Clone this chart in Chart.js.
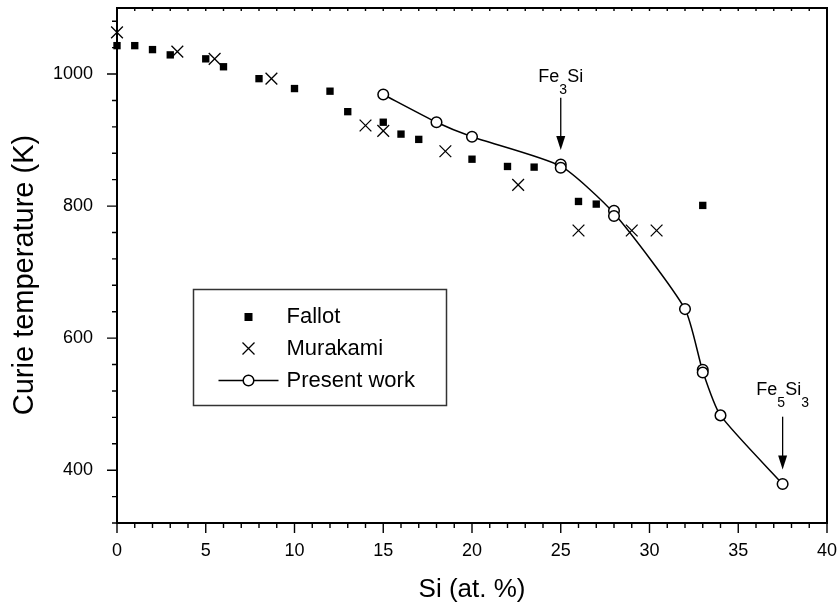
<!DOCTYPE html>
<html>
<head>
<meta charset="utf-8">
<script src="https://cdn.jsdelivr.net/npm/chart.js@4.4.1/dist/chart.umd.min.js"></script>
<style>
    html, body { margin: 0; padding: 0; background: #fff; }
</style>
</head>
<body>
<canvas id="curie" width="839" height="609"></canvas>
<script>

// Fallot
const fallotSi = [0, 1, 2, 3, 5, 6, 8, 10, 12, 13, 15, 16, 17, 20, 22, 23.5, 26, 27, 33]
const fallotTc = [1043, 1043, 1037, 1029, 1023, 1011, 993, 978, 974, 943, 927, 909, 901, 871, 860, 859, 807, 803, 801]

// Murakami
const murakamiSi = [0, 3.4, 5.5, 8.7, 14, 15, 18.5, 22.6, 26, 29, 30.4]
const murakamiTc = [1063, 1034, 1023, 993, 922, 914, 883, 832, 763, 763, 763]

// Present work
const presentSi = [15, 18, 20, 25, 25, 28, 28, 32, 33, 33, 34, 37.5]
const presentTc = [969, 927, 905, 863, 858, 793, 785, 644, 552, 548, 483, 379]

const xTicks = [0, 5, 10, 15, 20, 25, 30, 35, 40]
const yTicks = [400, 600, 800, 1000]

// phase markers: label baseline and arrow, in axis units
const phases = [
    { parts: [['Fe', 0], ['3', 1], ['Si', 0]], x: 25, labelY: 988, from: 964, to: 885 },
    { parts: [['Fe', 0], ['5', 1], ['Si', 0], ['3', 1]], x: 37.5, labelY: 514, from: 481, to: 401 }
]

const FONT = '"Liberation Sans", Arial, Helvetica, sans-serif'
Chart.defaults.font.family = FONT
Chart.defaults.color = '#000'

const toPoints = (xs, ys) => xs.map((x, i) => ({ x, y: ys[i] }))

// the guide line runs through the mean of repeated measurements
const meanCurve = (xs, ys) => {
    const out = []
    xs.forEach((x, i) => {
        const last = out[out.length - 1]
        if (last && last.x === x) {
            last.sum += ys[i]
            last.n++
        } else {
            out.push({ x, sum: ys[i], n: 1 })
        }
    })
    return out.map(p => ({ x: p.x, y: p.sum / p.n }))
}


// frame, tick marks, y title
const framePlugin = {
    id: 'frame',
    beforeDatasetsDraw(chart) {
        const { ctx, chartArea: a, scales: { x, y } } = chart
        ctx.save()
        ctx.strokeStyle = '#000'

        ctx.lineWidth = 1.4
        ctx.beginPath()
        for (let v = 0; v <= 40; v++) {
            const px = x.getPixelForValue(v)
            const len = v % 5 === 0 ? 10 : 5
            ctx.moveTo(px, a.bottom)
            ctx.lineTo(px, a.bottom + len)
            ctx.moveTo(px, a.top)
            ctx.lineTo(px, a.top + 3)
        }
        for (let v = 320; v < 1100; v += 40) {
            const py = y.getPixelForValue(v)
            const len = v % 200 === 0 ? 10 : 5
            ctx.moveTo(a.left, py)
            ctx.lineTo(a.left - len, py)
        }
        ctx.stroke()

        ctx.lineWidth = 2
        ctx.strokeRect(a.left, a.top, a.right - a.left, a.bottom - a.top)

        ctx.translate(25, 275)
        ctx.rotate(-Math.PI / 2)
        ctx.font = `29px ${FONT}`
        ctx.fillStyle = '#000'
        ctx.textAlign = 'center'
        ctx.textBaseline = 'middle'
        ctx.fillText('Curie temperature (K)', 0, 0)
        ctx.restore()
    }
}


// Fe3Si / Fe5Si3 arrows
const phasePlugin = {
    id: 'phases',
    afterDatasetsDraw(chart) {
        const { ctx, scales: { x, y } } = chart
        ctx.save()
        ctx.fillStyle = '#000'
        ctx.strokeStyle = '#000'
        ctx.textBaseline = 'alphabetic'
        ctx.textAlign = 'left'

        phases.forEach(p => {
            const cx = x.getPixelForValue(p.x)
            const base = y.getPixelForValue(p.labelY)

            const sized = p.parts.map(([t, sub]) => {
                ctx.font = `${sub ? 14 : 18}px ${FONT}`
                return { t, sub, w: ctx.measureText(t).width }
            })
            let tx = cx - sized.reduce((s, e) => s + e.w, 0) / 2
            sized.forEach(e => {
                ctx.font = `${e.sub ? 14 : 18}px ${FONT}`
                ctx.fillText(e.t, tx, base + (e.sub ? 12 : 0))
                tx += e.w
            })

            const y0 = y.getPixelForValue(p.from)
            const y1 = y.getPixelForValue(p.to)
            ctx.lineWidth = 1.3
            ctx.beginPath()
            ctx.moveTo(cx, y0)
            ctx.lineTo(cx, y1 - 12)
            ctx.stroke()
            ctx.beginPath()
            ctx.moveTo(cx - 4.5, y1 - 14)
            ctx.lineTo(cx + 4.5, y1 - 14)
            ctx.lineTo(cx, y1)
            ctx.closePath()
            ctx.fill()
        })
        ctx.restore()
    }
}


// boxed legend inside the plot
const legendPlugin = {
    id: 'boxLegend',
    afterDraw(chart) {
        const { ctx, chartArea: a } = chart
        const left = a.left + 76.5
        const top = a.top + 281.5
        const symX = left + 55
        const textX = left + 93
        const rows = [top + 27.5, top + 59, top + 91]

        ctx.save()
        ctx.strokeStyle = '#333'
        ctx.lineWidth = 1.5
        ctx.strokeRect(left, top, 253, 116)

        ctx.fillStyle = '#000'
        ctx.fillRect(symX - 4, rows[0] - 4, 8, 8)

        ctx.strokeStyle = '#000'
        ctx.lineWidth = 1.3
        ctx.beginPath()
        ctx.moveTo(symX - 6, rows[1] - 6)
        ctx.lineTo(symX + 6, rows[1] + 6)
        ctx.moveTo(symX + 6, rows[1] - 6)
        ctx.lineTo(symX - 6, rows[1] + 6)
        ctx.moveTo(symX - 30, rows[2])
        ctx.lineTo(symX + 30, rows[2])
        ctx.stroke()

        ctx.fillStyle = '#fff'
        ctx.lineWidth = 1.5
        ctx.beginPath()
        ctx.arc(symX, rows[2], 5.3, 0, Math.PI * 2)
        ctx.fill()
        ctx.stroke()

        ctx.fillStyle = '#000'
        ctx.font = `22px ${FONT}`
        ctx.textBaseline = 'middle'
        ctx.fillText('Fallot', textX, rows[0])
        ctx.fillText('Murakami', textX, rows[1])
        ctx.fillText('Present work', textX, rows[2])
        ctx.restore()
    }
}


const data = {
    datasets: [
        {
            label: 'Present work',
            data: toPoints(presentSi, presentTc),
            pointStyle: 'circle',
            pointRadius: 5.3,
            pointBackgroundColor: '#fff',
            pointBorderColor: '#000',
            pointBorderWidth: 1.5,
            order: 0
        },
        {
            label: 'Present work (line)',
            data: meanCurve(presentSi, presentTc),
            showLine: true,
            tension: 0.2,
            borderColor: '#000',
            borderWidth: 1.5,
            pointRadius: 0,
            order: 1
        },
        {
            label: 'Murakami',
            data: toPoints(murakamiSi, murakamiTc),
            pointStyle: 'crossRot',
            pointRadius: 8.3,
            pointBorderColor: '#000',
            pointBorderWidth: 1.3,
            clip: false,
            order: 2
        },
        {
            label: 'Fallot',
            data: toPoints(fallotSi, fallotTc),
            pointStyle: 'rect',
            pointRadius: 5.2,
            pointBackgroundColor: '#000',
            pointBorderWidth: 0,
            clip: false,
            order: 3
        }
    ]
}

const options = {
    responsive: false,
    animation: false,
    layout: { autoPadding: false, padding: { top: 8, right: 12, left: 0, bottom: 0 } },
    plugins: {
        legend: { display: false },
        tooltip: { enabled: false }
    },
    scales: {
        x: {
            type: 'linear',
            min: 0,
            max: 40,
            afterBuildTicks: s => { s.ticks = xTicks.map(value => ({ value })) },
            afterFit: s => {
                s.height = 86
                s.paddingLeft = 0
                s.paddingRight = 0
            },
            grid: { display: false, drawTicks: false },
            border: { display: false },
            ticks: { padding: 17, maxRotation: 0, font: { size: 18 }, color: '#000', callback: v => String(v) },
            title: {
                display: true,
                text: 'Si (at. %)',
                font: { size: 26 },
                color: '#000',
                padding: { top: 0, bottom: 4 }
            }
        },
        y: {
            type: 'linear',
            min: 320,
            max: 1100,
            afterBuildTicks: s => { s.ticks = yTicks.map(value => ({ value })) },
            afterFit: s => {
                s.width = 117
                s.paddingTop = 0
                s.paddingBottom = 0
            },
            grid: { display: false, drawTicks: false },
            border: { display: false },
            ticks: { padding: 24, font: { size: 18 }, color: '#000', callback: v => String(v) }
        }
    }
}

new Chart('curie', {
    type: 'scatter',
    data,
    options,
    plugins: [framePlugin, phasePlugin, legendPlugin]
})

</script>
</body>
</html>
